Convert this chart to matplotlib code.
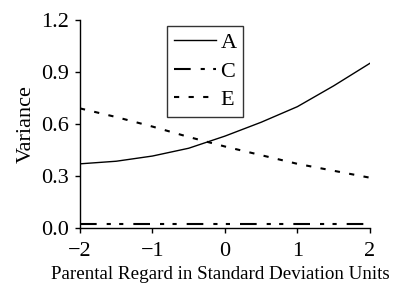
import matplotlib

matplotlib.use("Agg")
import matplotlib.pyplot as plt

# ── data ──
x_units = [-2.0, -1.5, -1.0, -0.5, 0.0, 0.5, 1.0, 1.5, 2.0]
var_a = [0.37, 0.385, 0.415, 0.46, 0.53, 0.61, 0.70, 0.82, 0.95]
var_c = [0.02, 0.02, 0.02, 0.02, 0.02, 0.02, 0.02, 0.02, 0.02]
var_e = [0.69, 0.64, 0.585, 0.525, 0.47, 0.42, 0.37, 0.33, 0.29]

x_ticks = [-2, -1, 0, 1, 2]
x_tick_labels = ["\u22122", "\u22121", "0", "1", "2"]
y_ticks = [0.0, 0.3, 0.6, 0.9, 1.2]

plt.rcParams["font.family"] = ["Liberation Serif", "DejaVu Serif"]

fig = plt.figure(figsize=(3.96, 2.86), dpi=100)
ax = fig.add_axes([0.202, 0.203, 0.732, 0.727])

ax.plot(x_units, var_a, color="black", lw=1.0, label="A")
ax.plot(x_units, var_c, color="black", lw=1.5, dashes=(8, 4.8, 2, 4, 2, 4.8), label="C")
ax.plot(x_units, var_e, color="black", lw=1.5, dashes=(2.5, 4.5), label="E")

ax.set_xlim(-2, 2)
ax.set_ylim(0, 1.2)
ax.set_xticks(x_ticks)
ax.set_xticklabels(x_tick_labels)
ax.set_yticks(y_ticks)
ax.set_yticklabels([f"{v:.1f}" for v in y_ticks])
ax.tick_params(labelsize=16, length=3.6, width=1, direction="out")
ax.tick_params(axis="x", pad=6.5)
ax.tick_params(axis="y", pad=4.2)

for side in ("top", "right"):
    ax.spines[side].set_visible(False)
for side in ("left", "bottom"):
    ax.spines[side].set_linewidth(1.0)

ax.set_xlabel("Parental Regard in Standard Deviation Units", fontsize=13.7)
ax.xaxis.set_label_coords(0.483, -0.185, transform=ax.transAxes)
ax.xaxis.label.set_verticalalignment("top")
ax.set_ylabel("Variance", fontsize=16, labelpad=4)

leg = ax.legend(loc="upper left", bbox_to_anchor=(0.30, 0.971), fontsize=16,
                frameon=True, fancybox=False, edgecolor="black",
                handlelength=1.9, handletextpad=0.2, borderpad=0.3,
                labelspacing=0.35, borderaxespad=0)
leg.get_frame().set_linewidth(1.0)

fig.savefig("out.png", dpi=100)
